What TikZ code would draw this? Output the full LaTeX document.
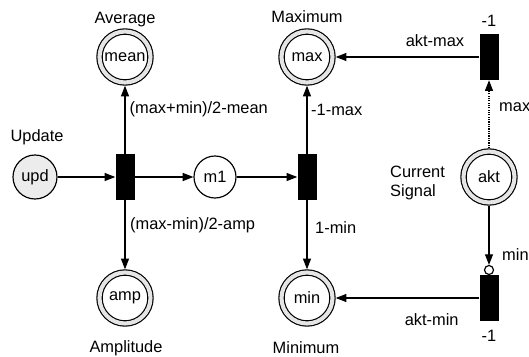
\documentclass[tikz,border=0pt]{standalone}
\usepackage{fontspec}
\setmainfont{Liberation Sans}
\usetikzlibrary{arrows.meta}

\tikzset{
    place/.style = {circle, draw, fill=white, line width=1pt, double=gray!20, double distance=3.5pt,
                    minimum size=1.53cm, inner sep=0pt, outer sep=2.75pt},
    token/.style = {circle, draw, fill=white, line width=1pt, minimum size=1.3cm, inner sep=0pt},
    trans/.style = {rectangle, fill=black, minimum width=.57cm, minimum height=1.38cm, inner sep=0pt},
    inhib/.style = {circle, draw, fill=white, line width=1pt, minimum size=.27cm, inner sep=0pt},
    arr/.style   = {line width=1pt, -{Triangle[length=3.2mm, width=2.4mm]}},
    txt/.style   = {inner sep=0pt}
}

\begin{document}
\begin{tikzpicture}[x=0.03cm, y=-0.03cm, font=\fontsize{14}{17}\selectfont]
    \useasboundingbox (0,0) rectangle (529,356);

    \node[place] (mean) at (125,57) {mean};
    \node[place] (amp) at (125,298) {amp};
    \node[place] (max) at (307,57) {max};
    \node[place] (min) at (307,298) {min};
    \node[place] (akt) at (489,177) {akt};
    \node[token, fill=gray!15, minimum size=1.32cm] (upd) at (35,177) {upd};
    \node[token, minimum size=1.26cm] (m1) at (215,177) {m1};

    \node[trans] (t1) at (125,177) {};
    \node[trans] (t2) at (307,177) {};
    \node[trans] (tmax) at (489,57) {};
    \node[trans] (tmin) at (489,298) {};
    \node[inhib] (inh) at (489,270) {};

    \draw[arr] (upd) -- (t1);
    \draw[arr] (t1) -- (m1);
    \draw[arr] (m1) -- (t2);
    \draw[arr] (t1) -- (mean);
    \draw[arr] (t1) -- (amp);
    \draw[arr] (t2) -- (max);
    \draw[arr] (t2) -- (min);
    \draw[arr] (tmax) -- (max);
    \draw[arr] (tmin) -- (min);
    \draw[arr, densely dotted] (akt) -- (tmax);
    \draw[arr] (akt) -- (inh);

    \node[txt, anchor=base] (average) at (125,23.5) {Average};
    \node[txt, anchor=base] (maximum) at (307,22.7) {Maximum};
    \node[txt, anchor=base] (amplitude) at (126,352) {Amplitude};
    \node[txt, anchor=base] (minimum) at (306,353) {Minimum};
    \node[txt, anchor=base] (update) at (37,141.7) {Update};
    \node[txt, anchor=west, align=left] (current) at (390,183) {Current\\Signal};

    \node[txt, anchor=base] (wmax) at (489,26) {-1};
    \node[txt, anchor=base] (wmin) at (489,341.7) {-1};
    \node[txt, anchor=base] (aktmax) at (435,46.7) {akt-max};
    \node[txt, anchor=base] (aktmin) at (431.7,325) {akt-min};
    \node[txt, anchor=base west] (lmean) at (129.5,113) {(max+min)/2-mean};
    \node[txt, anchor=base west] (lamp) at (130,229) {(max-min)/2-amp};
    \node[txt, anchor=base west] (lmax) at (311,115) {-1-max};
    \node[txt, anchor=base west] (lmin) at (315,233.3) {1-min};
    \node[txt, anchor=base west] (laktmax) at (499,111.7) {max};
    \node[txt, anchor=base west] (laktmin) at (502,260.7) {min};
\end{tikzpicture}
\end{document}
